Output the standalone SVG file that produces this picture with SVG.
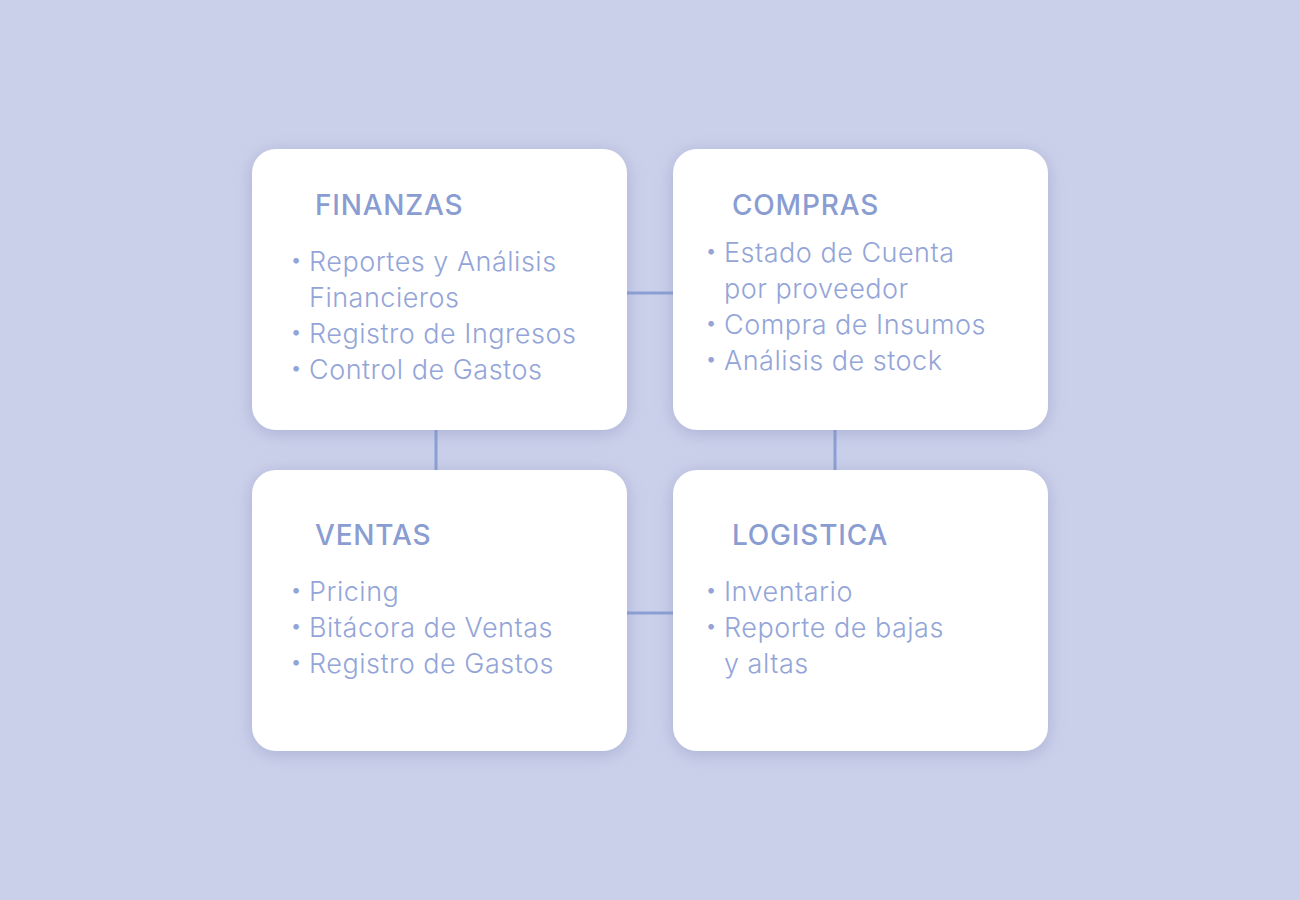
<svg xmlns="http://www.w3.org/2000/svg" width="1300" height="900" viewBox="0 0 1300 900">
<defs>
<filter id="sh" x="-20%" y="-20%" width="140%" height="140%">
<feGaussianBlur in="SourceAlpha" stdDeviation="9"/>
<feOffset dx="0" dy="3" result="b"/>
<feFlood flood-color="#7f88b8" flood-opacity="0.45"/>
<feComposite in2="b" operator="in"/>
<feMerge><feMergeNode/><feMergeNode in="SourceGraphic"/></feMerge>
</filter>
<style>
.box{fill:#ffffff;filter:url(#sh)}
.title{font-family:Inter,"Noto Sans",sans-serif;font-size:28px;font-weight:500;letter-spacing:0.8px;fill:#8a9dd2}
.item{font-family:Inter,"Noto Sans",sans-serif;font-size:27px;font-weight:300;letter-spacing:0.5px;fill:#93a5d8}
.bul{font-family:Inter,"Noto Sans",sans-serif;font-size:18px;fill:#93a5d8}
.conn{stroke:#8b9fd4;stroke-width:3;fill:none}
</style>
</defs>
<rect width="1300" height="900" fill="#cbd0ea"/>
<g id="connectors">
<line class="conn" x1="627" y1="293" x2="673" y2="293"/>
<line class="conn" x1="627" y1="613" x2="673" y2="613"/>
<line class="conn" x1="436" y1="430" x2="436" y2="470"/>
<line class="conn" x1="835" y1="430" x2="835" y2="470"/>
</g>
<g id="finanzas">
<rect class="box" x="252" y="149" width="375" height="281" rx="24"/>
<text class="title" x="315" y="215">FINANZAS</text>
<text class="bul" x="291" y="266">•</text>
<text class="item" x="309" y="271">Reportes y Análisis</text>
<text class="item" x="309" y="307">Financieros</text>
<text class="bul" x="291" y="338">•</text>
<text class="item" x="309" y="343">Registro de Ingresos</text>
<text class="bul" x="291" y="374">•</text>
<text class="item" x="309" y="379">Control de Gastos</text>
</g>
<g id="compras">
<rect class="box" x="673" y="149" width="375" height="281" rx="24"/>
<text class="title" x="732" y="215">COMPRAS</text>
<text class="bul" x="706" y="257">•</text>
<text class="item" x="724" y="262">Estado de Cuenta</text>
<text class="item" x="724" y="298">por proveedor</text>
<text class="bul" x="706" y="329">•</text>
<text class="item" x="724" y="334">Compra de Insumos</text>
<text class="bul" x="706" y="365">•</text>
<text class="item" x="724" y="370">Análisis de stock</text>
</g>
<g id="ventas">
<rect class="box" x="252" y="470" width="375" height="281" rx="24"/>
<text class="title" x="315" y="545">VENTAS</text>
<text class="bul" x="291" y="596">•</text>
<text class="item" x="309" y="601">Pricing</text>
<text class="bul" x="291" y="632">•</text>
<text class="item" x="309" y="637">Bitácora de Ventas</text>
<text class="bul" x="291" y="668">•</text>
<text class="item" x="309" y="673">Registro de Gastos</text>
</g>
<g id="logistica">
<rect class="box" x="673" y="470" width="375" height="281" rx="24"/>
<text class="title" x="732" y="545">LOGISTICA</text>
<text class="bul" x="706" y="596">•</text>
<text class="item" x="724" y="601">Inventario</text>
<text class="bul" x="706" y="632">•</text>
<text class="item" x="724" y="637">Reporte de bajas</text>
<text class="item" x="724" y="673">y altas</text>
</g>
</svg>
